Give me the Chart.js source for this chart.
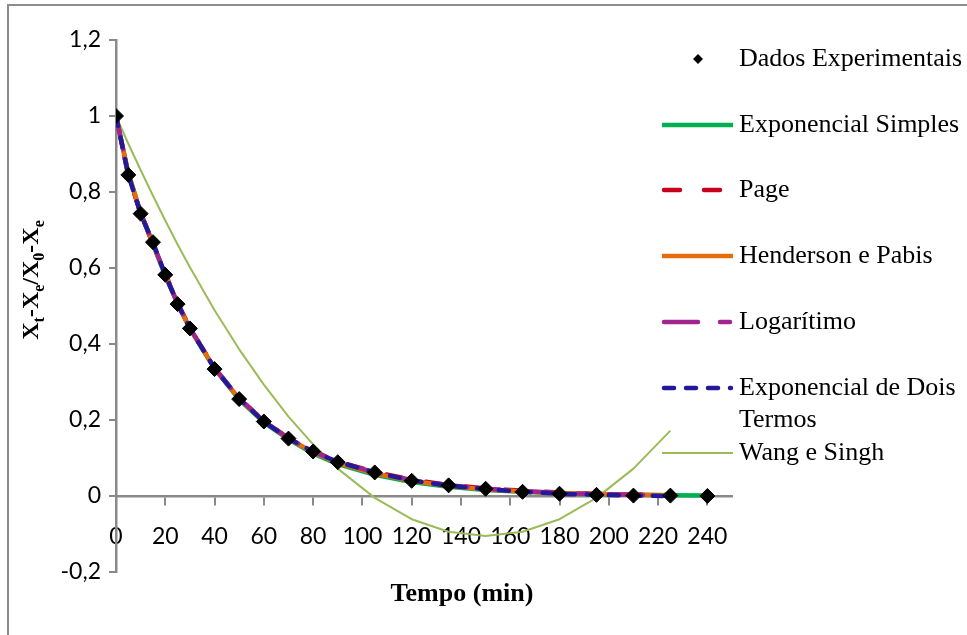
<!DOCTYPE html>
<html>
<head>
<meta charset="utf-8">
<script src="https://cdn.jsdelivr.net/npm/chart.js@4.4.0/dist/chart.umd.min.js"></script>
<style>
  body { margin: 0; background: #fff; }
  #wrap { width: 967px; height: 635px; }
</style>
</head>
<body>
<div id="wrap"><canvas id="grafico" width="967" height="635"></canvas></div>
<script>
// tempos de secagem (min)
const tempo = [0, 5, 10, 15, 20, 25, 30, 40, 50, 60, 70, 80, 90, 105, 120, 135, 150, 165, 180, 195, 210, 225, 240];

// razao de umidade observada
const dadosExp = [1, 0.845, 0.743, 0.668, 0.582, 0.505, 0.441, 0.334, 0.255, 0.196, 0.151, 0.117, 0.089, 0.062, 0.040, 0.028, 0.019, 0.011, 0.006, 0.003, 0.001, 0.001, 0];

// modelos ajustados
const expSimples = [1, 0.850, 0.745, 0.662, 0.580, 0.505, 0.440, 0.335, 0.254, 0.194, 0.149, 0.112, 0.084, 0.056, 0.037, 0.024, 0.016, 0.011, 0.007, 0.004, 0.003, 0.002, 0.001];
const page = [1, 0.843, 0.745, 0.663, 0.585, 0.508, 0.442, 0.337, 0.257, 0.198, 0.152, 0.118, 0.091, 0.063, 0.043, 0.029, 0.020, 0.014, 0.009, 0.006, 0.004, 0.003];
const henderson = [1, 0.848, 0.746, 0.664, 0.582, 0.506, 0.441, 0.336, 0.256, 0.196, 0.151, 0.115, 0.087, 0.059, 0.040, 0.026, 0.018, 0.012, 0.008, 0.005, 0.003, 0.002];
const logaritimo = [1, 0.846, 0.744, 0.665, 0.583, 0.507, 0.442, 0.337, 0.257, 0.197, 0.152, 0.117, 0.090, 0.062, 0.042, 0.028, 0.019, 0.013, 0.008, 0.005, 0.003, 0.002];
const expDoisTermos = [1, 0.845, 0.743, 0.667, 0.582, 0.506, 0.441, 0.336, 0.256, 0.196, 0.151, 0.117, 0.090, 0.062, 0.041, 0.027, 0.018, 0.011, 0.006, 0.003, 0.001, 0.000];
const wangSingh = [1, 0.927, 0.858, 0.790, 0.725, 0.662, 0.602, 0.489, 0.386, 0.293, 0.209, 0.136, 0.072, -0.005, -0.061, -0.094, -0.105, -0.094, -0.061, -0.005, 0.072, 0.172];

// eixos
const xRotulos = [0, 20, 40, 60, 80, 100, 120, 140, 160, 180, 200, 220, 240];
const xMin = 0, xMax = 250;
const yMin = -0.2, yMax = 1.2, yPasso = 0.2;

const pares = (ys) => ys.map((y, i) => ({ x: tempo[i], y: y }));

const cinza = "#898989";
const serif = "'Liberation Serif', 'Times New Roman', serif";

const series = [
  { label: "Dados Experimentais", data: dadosExp, cor: "#000000", tipo: "ponto", order: 0 },
  { label: "Exponencial Simples", data: expSimples, cor: "#00B050", largura: 4.5, dash: [], order: 5 },
  { label: "Page", data: page, cor: "#C8001E", largura: 4.5, dash: [16, 24], cap: "round", order: 4 },
  { label: "Henderson e Pabis", data: henderson, cor: "#E46C0A", largura: 4.5, dash: [], order: 3 },
  { label: "Logarítimo", data: logaritimo, cor: "#A0258F", largura: 4.5, dash: [34, 22, 10, 22], cap: "round", order: 2 },
  { label: ["Exponencial de Dois", "Termos"], data: expDoisTermos, cor: "#23199A", largura: 4.5, dash: [10, 12], cap: "round", order: 1 },
  { label: "Wang e Singh", data: wangSingh, cor: "#9BBB59", largura: 2, dash: [], order: 6 },
];

const datasets = series.map((s) => {
  if (s.tipo === "ponto") {
    return {
      label: s.label,
      data: pares(s.data),
      showLine: false,
      pointStyle: "rectRot",
      pointRadius: 7.5,
      backgroundColor: s.cor,
      borderColor: s.cor,
      borderWidth: 1,
      order: s.order,
    };
  }
  return {
    label: Array.isArray(s.label) ? s.label.join(" ") : s.label,
    data: pares(s.data),
    showLine: true,
    pointRadius: 0,
    borderColor: s.cor,
    borderWidth: s.largura,
    borderDash: s.dash,
    borderCapStyle: s.cap || "butt",
    borderJoinStyle: "round",
    tension: 0,
    order: s.order,
  };
});

// moldura, titulos dos eixos e legenda desenhados no canvas
const extras = {
  id: "extras",
  afterDraw(chart) {
    const ctx = chart.ctx;
    ctx.save();

    // moldura
    ctx.strokeStyle = "#8c8c8c";
    ctx.lineWidth = 2;
    ctx.beginPath();
    ctx.moveTo(8, 640);
    ctx.lineTo(8, 5);
    ctx.lineTo(970, 5);
    ctx.stroke();

    // titulo do eixo x
    ctx.fillStyle = "#000";
    ctx.font = "bold 26px " + serif;
    ctx.textAlign = "center";
    ctx.textBaseline = "middle";
    ctx.fillText("Tempo (min)", 462, 594);

    // titulo do eixo y com subscritos
    const partes = [["X", 0], ["t", 1], ["-X", 0], ["e", 1], ["/X", 0], ["0", 1], ["-X", 0], ["e", 1]];
    const fNormal = "bold 24px " + serif;
    const fSub = "bold 16px " + serif;
    let total = 0;
    partes.forEach((p) => {
      ctx.font = p[1] ? fSub : fNormal;
      total += ctx.measureText(p[0]).width;
    });
    ctx.translate(30, 280);
    ctx.rotate(-Math.PI / 2);
    ctx.textAlign = "left";
    ctx.textBaseline = "alphabetic";
    let px = -total / 2;
    partes.forEach((p) => {
      ctx.font = p[1] ? fSub : fNormal;
      ctx.fillText(p[0], px, p[1] ? 14 : 8);
      px += ctx.measureText(p[0]).width;
    });
    ctx.setTransform(1, 0, 0, 1, 0, 0);

    // legenda
    const yItens = [59, 125, 190, 256, 322, 388, 453];
    ctx.font = "26px " + serif;
    ctx.textAlign = "left";
    ctx.textBaseline = "middle";
    series.forEach((s, i) => {
      const y = yItens[i];
      if (s.tipo === "ponto") {
        ctx.fillStyle = s.cor;
        ctx.beginPath();
        ctx.moveTo(698, y - 5);
        ctx.lineTo(703, y);
        ctx.lineTo(698, y + 5);
        ctx.lineTo(693, y);
        ctx.closePath();
        ctx.fill();
      } else {
        ctx.strokeStyle = s.cor;
        ctx.lineWidth = s.largura;
        ctx.lineCap = s.cap || "butt";
        ctx.setLineDash(s.dash);
        ctx.beginPath();
        ctx.moveTo(s.cap ? 664 : 662, y);
        ctx.lineTo(s.cap ? 731 : 733, y);
        ctx.stroke();
        ctx.setLineDash([]);
      }
      ctx.fillStyle = "#000";
      const linhas = Array.isArray(s.label) ? s.label : [s.label];
      linhas.forEach((t, k) => ctx.fillText(t, 739, y + k * 32));
    });

    ctx.restore();
  },
};

const formatarY = (v) => {
  const r = Math.round(v * 10) / 10;
  return String(r).replace(".", ",");
};

new Chart(document.getElementById("grafico"), {
  type: "scatter",
  data: { datasets: datasets },
  options: {
    responsive: false,
    animation: false,
    devicePixelRatio: 1,
    layout: { padding: { left: 0, top: 40, right: 235, bottom: 63 } },
    plugins: {
      legend: { display: false },
      tooltip: { enabled: false },
    },
    scales: {
      x: {
        type: "linear",
        position: { y: 0 },
        min: xMin,
        max: xMax,
        afterFit: (s) => { s.height = 0; },
        afterBuildTicks: (s) => { s.ticks = xRotulos.map((v) => ({ value: v })); },
        ticks: {
          color: "#000",
          padding: 19,
          maxRotation: 0,
          autoSkip: false,
          font: { family: "Lato", size: 23 },
        },
        grid: { drawOnChartArea: false, drawTicks: true, tickLength: 8, color: cinza, lineWidth: 2 },
        border: { display: true, color: cinza, width: 2.5 },
      },
      y: {
        type: "linear",
        position: "left",
        min: yMin,
        max: yMax,
        afterFit: (s) => { s.width = 116; },
        ticks: {
          stepSize: yPasso,
          color: "#000",
          padding: 8,
          callback: formatarY,
          font: { family: "Lato", size: 23 },
        },
        grid: { drawOnChartArea: false, drawTicks: true, tickLength: 7, color: cinza, lineWidth: 2 },
        border: { display: true, color: cinza, width: 2.5 },
      },
    },
  },
  plugins: [extras],
});
</script>
</body>
</html>
